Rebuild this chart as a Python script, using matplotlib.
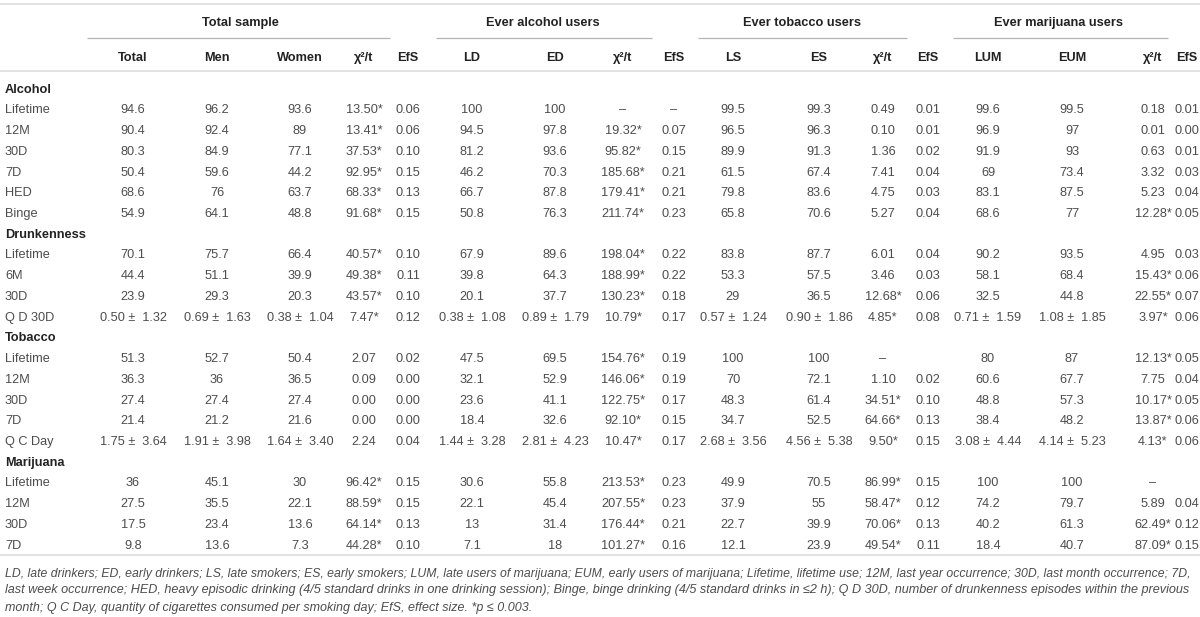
import matplotlib
matplotlib.use("Agg")
import matplotlib.pyplot as plt

FONT = ["Liberation Sans", "DejaVu Sans"]

# ---------------- data ----------------
group_headers = ["Total sample", "Ever alcohol users", "Ever tobacco users", "Ever marijuana users"]
column_headers = ["Total", "Men", "Women", "χ²/t", "EfS",
                  "LD", "ED", "χ²/t", "EfS",
                  "LS", "ES", "χ²/t", "EfS",
                  "LUM", "EUM", "χ²/t", "EfS"]
sections = ["Alcohol", "Drunkenness", "Tobacco", "Marijuana"]

alcohol_labels = ["Lifetime", "12M", "30D", "7D", "HED", "Binge"]
alcohol_values = [
    ["94.6", "96.2", "93.6", "13.50*", "0.06", "100", "100", "–", "–", "99.5", "99.3", "0.49", "0.01", "99.6", "99.5", "0.18", "0.01"],
    ["90.4", "92.4", "89", "13.41*", "0.06", "94.5", "97.8", "19.32*", "0.07", "96.5", "96.3", "0.10", "0.01", "96.9", "97", "0.01", "0.00"],
    ["80.3", "84.9", "77.1", "37.53*", "0.10", "81.2", "93.6", "95.82*", "0.15", "89.9", "91.3", "1.36", "0.02", "91.9", "93", "0.63", "0.01"],
    ["50.4", "59.6", "44.2", "92.95*", "0.15", "46.2", "70.3", "185.68*", "0.21", "61.5", "67.4", "7.41", "0.04", "69", "73.4", "3.32", "0.03"],
    ["68.6", "76", "63.7", "68.33*", "0.13", "66.7", "87.8", "179.41*", "0.21", "79.8", "83.6", "4.75", "0.03", "83.1", "87.5", "5.23", "0.04"],
    ["54.9", "64.1", "48.8", "91.68*", "0.15", "50.8", "76.3", "211.74*", "0.23", "65.8", "70.6", "5.27", "0.04", "68.6", "77", "12.28*", "0.05"],
]

drunk_labels = ["Lifetime", "6M", "30D", "Q D 30D"]
drunk_values = [
    ["70.1", "75.7", "66.4", "40.57*", "0.10", "67.9", "89.6", "198.04*", "0.22", "83.8", "87.7", "6.01", "0.04", "90.2", "93.5", "4.95", "0.03"],
    ["44.4", "51.1", "39.9", "49.38*", "0.11", "39.8", "64.3", "188.99*", "0.22", "53.3", "57.5", "3.46", "0.03", "58.1", "68.4", "15.43*", "0.06"],
    ["23.9", "29.3", "20.3", "43.57*", "0.10", "20.1", "37.7", "130.23*", "0.18", "29", "36.5", "12.68*", "0.06", "32.5", "44.8", "22.55*", "0.07"],
    ["0.50 ±  1.32", "0.69 ±  1.63", "0.38 ±  1.04", "7.47*", "0.12", "0.38 ±  1.08", "0.89 ±  1.79", "10.79*", "0.17",
     "0.57 ±  1.24", "0.90 ±  1.86", "4.85*", "0.08", "0.71 ±  1.59", "1.08 ±  1.85", "3.97*", "0.06"],
]

tobacco_labels = ["Lifetime", "12M", "30D", "7D", "Q C Day"]
tobacco_values = [
    ["51.3", "52.7", "50.4", "2.07", "0.02", "47.5", "69.5", "154.76*", "0.19", "100", "100", "–", "", "80", "87", "12.13*", "0.05"],
    ["36.3", "36", "36.5", "0.09", "0.00", "32.1", "52.9", "146.06*", "0.19", "70", "72.1", "1.10", "0.02", "60.6", "67.7", "7.75", "0.04"],
    ["27.4", "27.4", "27.4", "0.00", "0.00", "23.6", "41.1", "122.75*", "0.17", "48.3", "61.4", "34.51*", "0.10", "48.8", "57.3", "10.17*", "0.05"],
    ["21.4", "21.2", "21.6", "0.00", "0.00", "18.4", "32.6", "92.10*", "0.15", "34.7", "52.5", "64.66*", "0.13", "38.4", "48.2", "13.87*", "0.06"],
    ["1.75 ±  3.64", "1.91 ±  3.98", "1.64 ±  3.40", "2.24", "0.04", "1.44 ±  3.28", "2.81 ±  4.23", "10.47*", "0.17",
     "2.68 ±  3.56", "4.56 ±  5.38", "9.50*", "0.15", "3.08 ±  4.44", "4.14 ±  5.23", "4.13*", "0.06"],
]

marijuana_labels = ["Lifetime", "12M", "30D", "7D"]
marijuana_values = [
    ["36", "45.1", "30", "96.42*", "0.15", "30.6", "55.8", "213.53*", "0.23", "49.9", "70.5", "86.99*", "0.15", "100", "100", "–", ""],
    ["27.5", "35.5", "22.1", "88.59*", "0.15", "22.1", "45.4", "207.55*", "0.23", "37.9", "55", "58.47*", "0.12", "74.2", "79.7", "5.89", "0.04"],
    ["17.5", "23.4", "13.6", "64.14*", "0.13", "13", "31.4", "176.44*", "0.21", "22.7", "39.9", "70.06*", "0.13", "40.2", "61.3", "62.49*", "0.12"],
    ["9.8", "13.6", "7.3", "44.28*", "0.10", "7.1", "18", "101.27*", "0.16", "12.1", "23.9", "49.54*", "0.11", "18.4", "40.7", "87.09*", "0.15"],
]

footnote_lines = [
    "LD, late drinkers; ED, early drinkers; LS, late smokers; ES, early smokers; LUM, late users of marijuana; EUM, early users of marijuana; Lifetime, lifetime use; 12M, last year occurrence; 30D, last month occurrence; 7D,",
    "last week occurrence; HED, heavy episodic drinking (4/5 standard drinks in one drinking session); Binge, binge drinking (4/5 standard drinks in ≤2 h); Q D 30D, number of drunkenness episodes within the previous",
    "month; Q C Day, quantity of cigarettes consumed per smoking day; EfS, effect size. *p ≤ 0.003.",
]

# ---------------- layout ----------------
W, H = 1200, 617
col_x = [133, 217, 300, 364, 408, 472, 555, 623, 674, 733, 819, 883, 928, 988, 1072, 1153, 1187]
group_x = [240, 543, 802, 1059]
group_spans = [(87, 390), (436, 652), (698, 907), (953, 1168)]
label_x = 5
row_y0 = 88
row_dy = 20.73

HEAD_COLOR = "#222222"
TEXT_COLOR = "#4d4d4d"
LINE_LIGHT = "#dddddd"
LINE_MID = "#b5b5b5"
FS = 9.2
FOOT_FS = 9.0

fig = plt.figure(figsize=(W / 100, H / 100), dpi=100)
ax = fig.add_axes([0, 0, 1, 1])
ax.set_xlim(0, W)
ax.set_ylim(H, 0)
ax.axis("off")


def txt(x, y, s, ha="center", bold=False, color=TEXT_COLOR, size=FS, style="normal"):
    # y is the visual centre of the cap-height; place baseline below it
    return ax.text(x, y + size * 100 / 72 * 0.36, s, ha=ha, va="baseline",
                   fontsize=size, family=FONT, color=color,
                   fontweight="bold" if bold else "normal", fontstyle=style)


# rules
ax.plot([0, W], [4, 4], color=LINE_LIGHT, lw=1.2, solid_capstyle="butt")
ax.plot([0, W], [71, 71], color=LINE_LIGHT, lw=1.2, solid_capstyle="butt")
for (a, b) in group_spans:
    ax.plot([a, b], [38, 38], color=LINE_MID, lw=0.9, solid_capstyle="butt")

# headers
for gx, g in zip(group_x, group_headers):
    txt(gx, 21, g, bold=True, color=HEAD_COLOR)
for cx, c in zip(col_x, column_headers):
    txt(cx, 56, c, bold=True, color=HEAD_COLOR)

# body
blocks = [(alcohol_labels, alcohol_values), (drunk_labels, drunk_values),
          (tobacco_labels, tobacco_values), (marijuana_labels, marijuana_values)]
r = 0
for sec, (labels, values) in zip(sections, blocks):
    y = row_y0 + r * row_dy
    txt(label_x, y, sec, ha="left", bold=True, color=HEAD_COLOR)
    r += 1
    for lab, vals in zip(labels, values):
        y = row_y0 + r * row_dy
        txt(label_x, y, lab, ha="left")
        for cx, v in zip(col_x, vals):
            if v:
                txt(cx, y, v)
        r += 1

last_y = row_y0 + (r - 1) * row_dy
sep_y = last_y + 11
ax.plot([0, W], [sep_y, sep_y], color=LINE_LIGHT, lw=1.2, solid_capstyle="butt")

# footnote: full lines; the first two are scaled to run to the right edge
renderer = fig.canvas.get_renderer()
foot_y = [572, 589, 606]
right_edge = 1195
for i, (line, fy) in enumerate(zip(footnote_lines, foot_y)):
    t = txt(label_x, fy, line, ha="left", size=FOOT_FS, style="italic")
    if i < len(footnote_lines) - 1:
        wd = t.get_window_extent(renderer).width
        new_fs = FOOT_FS * (right_edge - label_x) / wd
        new_fs = max(min(new_fs, FOOT_FS * 1.06), FOOT_FS * 0.94)
        t.set_fontsize(new_fs)

fig.savefig("out.png", dpi=100)
